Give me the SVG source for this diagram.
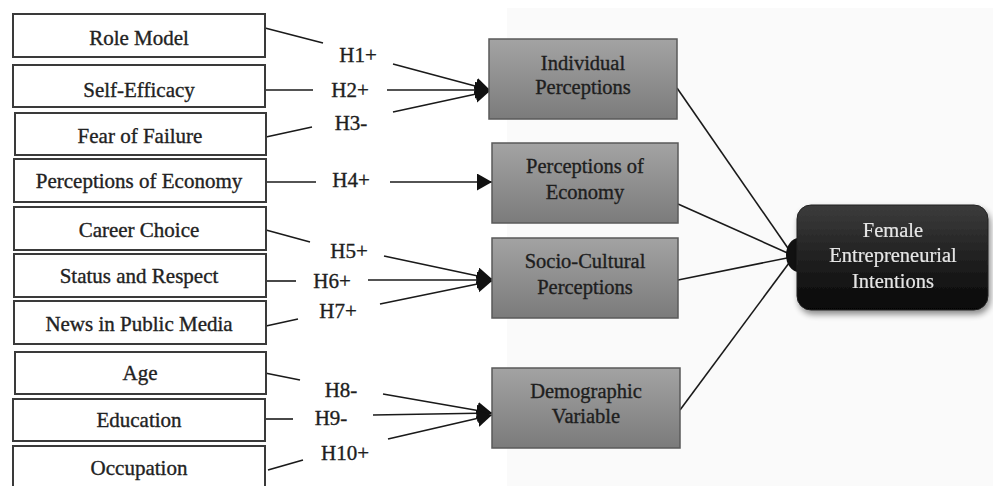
<svg xmlns="http://www.w3.org/2000/svg" width="993" height="486" viewBox="0 0 993 486">
<defs>
<linearGradient id="gGray" x1="0" y1="0" x2="0" y2="1">
<stop offset="0" stop-color="#a3a3a3"/>
<stop offset="1" stop-color="#7b7b7b"/>
</linearGradient>
<linearGradient id="gBlack" x1="0" y1="0" x2="0" y2="1">
<stop offset="0" stop-color="#3c3c3c"/>
<stop offset="1" stop-color="#060606"/>
</linearGradient>
<filter id="shadow" x="-10%" y="-10%" width="125%" height="130%">
<feGaussianBlur in="SourceAlpha" stdDeviation="3"/>
<feOffset dx="2" dy="4" result="b"/>
<feComponentTransfer><feFuncA type="linear" slope="0.45"/></feComponentTransfer>
<feMerge><feMergeNode/><feMergeNode in="SourceGraphic"/></feMerge>
</filter>
<marker id="arr" markerUnits="userSpaceOnUse" markerWidth="16" markerHeight="18" refX="15" refY="8.5" orient="auto">
<path d="M0,0 L15,8.5 L0,17 z" fill="#111"/>
</marker>
</defs>
<style>
text{font-family:"Liberation Serif","Times New Roman",serif;font-size:21px;text-anchor:middle;stroke-width:0.35}
.lb rect{fill:#fff;stroke:#3a3a3a;stroke-width:2}
.lb text{fill:#222;stroke:#222}
.gb rect{fill:url(#gGray);stroke:#5a5a5a;stroke-width:1.5}
.gb text{fill:#1e1e1e;stroke:#1e1e1e;font-size:20.5px}
.hl{fill:#1e1e1e;stroke:#1e1e1e}
.wt{fill:#e6e6e6;stroke:#e6e6e6;stroke-width:0.2;font-size:20.5px}
#connectors line{stroke:#1a1a1a;stroke-width:1.6;fill:none}
.ar{marker-end:url(#arr)}
</style>
<rect x="0" y="0" width="993" height="486" fill="#fff"/>
<rect x="507" y="8" width="486" height="478" fill="#fafafa"/>

<g id="connectors">
<line x1="265" y1="28" x2="323" y2="43"/>
<line class="ar" x1="393" y1="64" x2="490" y2="90"/>
<line x1="265" y1="90" x2="313" y2="90"/>
<line class="ar" x1="387" y1="90" x2="490" y2="90"/>
<line x1="266" y1="137" x2="312" y2="127"/>
<line class="ar" x1="393" y1="112" x2="490" y2="91"/>
<line x1="266" y1="182" x2="316" y2="182"/>
<line class="ar" x1="390" y1="182" x2="492" y2="182"/>
<line x1="266" y1="230" x2="310" y2="242"/>
<line class="ar" x1="384" y1="256" x2="492" y2="279"/>
<line x1="266" y1="281" x2="296" y2="281"/>
<line class="ar" x1="368" y1="280" x2="492" y2="280"/>
<line x1="266" y1="326" x2="298" y2="319"/>
<line class="ar" x1="380" y1="304" x2="492" y2="281"/>
<line x1="265" y1="373" x2="300" y2="380"/>
<line class="ar" x1="383" y1="394" x2="492" y2="413"/>
<line x1="265" y1="419" x2="293" y2="419"/>
<line class="ar" x1="373" y1="415" x2="492" y2="413"/>
<line x1="268" y1="470" x2="303" y2="460"/>
<line class="ar" x1="388" y1="439" x2="492" y2="415"/>
<line x1="677" y1="88" x2="792" y2="254"/>
<line x1="678" y1="204" x2="792" y2="255"/>
<line x1="678" y1="280" x2="792" y2="257"/>
<line x1="680" y1="410" x2="792" y2="259"/>
<ellipse cx="799" cy="255" rx="13" ry="17" fill="#111" stroke="none"/>
</g>

<g id="labels">
<text class="hl" x="358" y="62">H1+</text>
<text class="hl" x="350" y="97">H2+</text>
<text class="hl" x="351" y="130">H3-</text>
<text class="hl" x="351" y="187">H4+</text>
<text class="hl" x="349" y="258">H5+</text>
<text class="hl" x="332" y="288">H6+</text>
<text class="hl" x="338" y="318">H7+</text>
<text class="hl" x="341" y="397">H8-</text>
<text class="hl" x="331" y="425">H9-</text>
<text class="hl" x="345" y="460">H10+</text>
</g>

<g id="n-role-model" class="lb"><rect x="13" y="14" width="252" height="43"/><text x="139" y="45">Role Model</text></g>
<g id="n-self-efficacy" class="lb"><rect x="13" y="65" width="252" height="42"/><text x="139" y="97">Self-Efficacy</text></g>
<g id="n-fear-of-failure" class="lb"><rect x="15" y="113" width="251" height="42"/><text x="140" y="143">Fear of Failure</text></g>
<g id="n-perc-economy" class="lb"><rect x="14" y="159" width="252" height="43"/><text x="139" y="188">Perceptions of Economy</text></g>
<g id="n-career-choice" class="lb"><rect x="14" y="207" width="252" height="43"/><text x="139" y="237">Career Choice</text></g>
<g id="n-status-respect" class="lb"><rect x="14" y="254" width="252" height="43"/><text x="139" y="283">Status and Respect</text></g>
<g id="n-news-media" class="lb"><rect x="14" y="301" width="252" height="43"/><text x="139" y="331">News in Public Media</text></g>
<g id="n-age" class="lb"><rect x="15" y="352" width="251" height="42"/><text x="140" y="380">Age</text></g>
<g id="n-education" class="lb"><rect x="13" y="399" width="252" height="42"/><text x="139" y="427">Education</text></g>
<g id="n-occupation" class="lb"><rect x="13" y="446" width="252" height="44"/><text x="139" y="475">Occupation</text></g>

<g id="n-individual" class="gb"><rect x="489" y="39" width="188" height="80"/><text x="583" y="70">Individual</text><text x="583" y="94">Perceptions</text></g>
<g id="n-perceptions-economy" class="gb"><rect x="492" y="143" width="186" height="80"/><text x="585" y="173">Perceptions of</text><text x="585" y="199">Economy</text></g>
<g id="n-socio-cultural" class="gb"><rect x="492" y="238" width="186" height="80"/><text x="585" y="268">Socio-Cultural</text><text x="585" y="294">Perceptions</text></g>
<g id="n-demographic" class="gb"><rect x="492" y="368" width="188" height="80"/><text x="586" y="398">Demographic</text><text x="586" y="423">Variable</text></g>

<g id="n-female" filter="url(#shadow)"><rect x="797" y="205" width="191" height="105" rx="14" fill="url(#gBlack)" stroke="#222" stroke-width="1"/><text class="wt" x="893" y="237">Female</text><text class="wt" x="893" y="262">Entrepreneurial</text><text class="wt" x="893" y="288">Intentions</text></g>
</svg>
